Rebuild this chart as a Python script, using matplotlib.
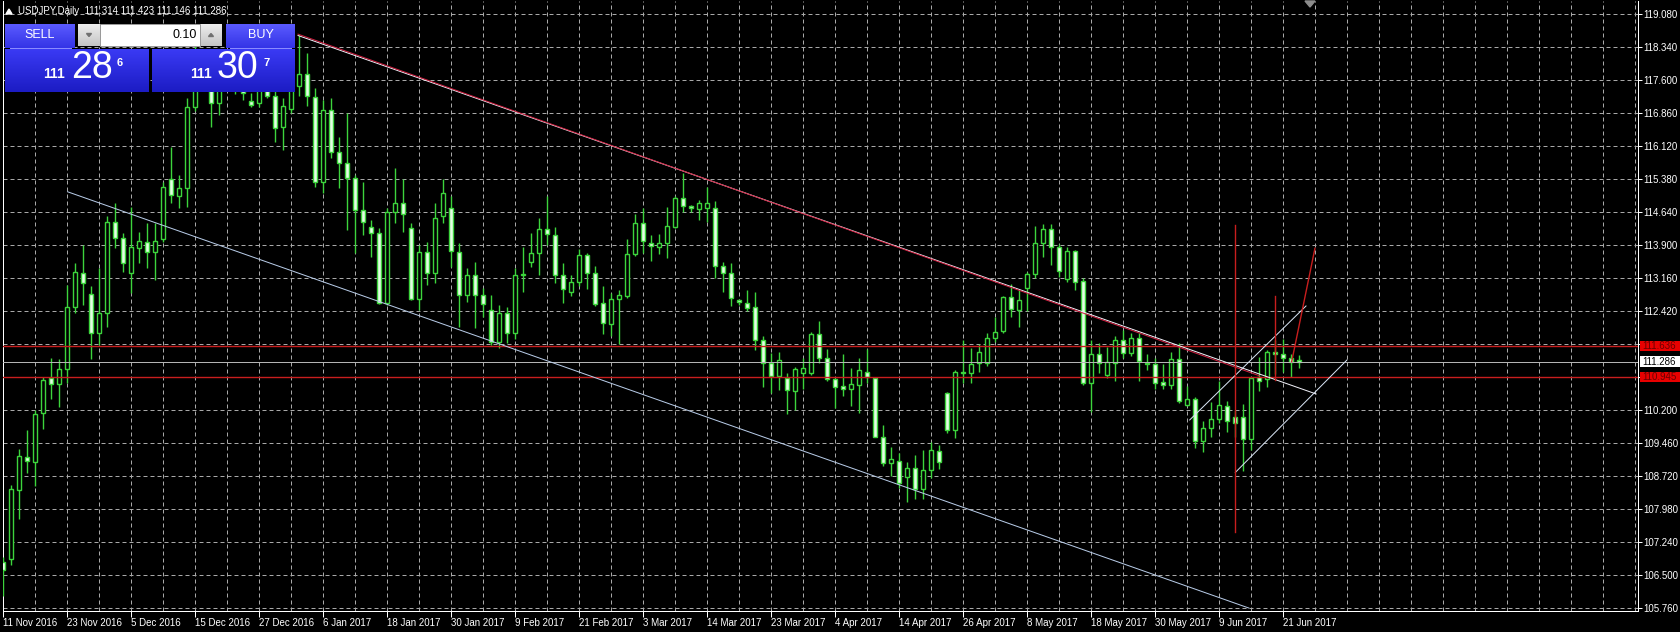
import numpy as np
import matplotlib
matplotlib.use("Agg")
import matplotlib.pyplot as plt
import matplotlib.transforms as mtransforms
from matplotlib.patches import Rectangle, Polygon
from matplotlib.colors import LinearSegmentedColormap

plt.rcParams["font.family"] = ["Liberation Sans", "DejaVu Sans"]

# ---------------------------------------------------------------------------
# USDJPY daily bars, 11 Nov 2016 .. 23 Jun 2017
# ---------------------------------------------------------------------------
opens = [106.80, 106.85, 108.41, 109.15, 109.04, 110.13, 110.91, 110.78, 111.11, 112.50,
         113.27, 112.80, 111.92, 112.37, 114.42, 114.05, 113.28, 113.84, 113.97, 113.75,
         114.03, 115.37, 115.00, 115.17, 116.99, 118.10, 117.90, 117.08, 117.90, 117.60,
         117.55, 117.13, 117.08, 117.60, 117.25, 116.54, 116.95, 117.47, 117.73, 117.21,
         115.32, 116.93, 115.99, 115.73, 115.40, 114.69, 114.31, 114.16, 112.59, 114.63,
         114.85, 114.28, 112.68, 113.75, 113.28, 114.54, 114.72, 113.74, 112.78, 113.23,
         112.78, 112.44, 111.73, 112.38, 111.92, 113.23, 113.53, 113.71, 114.25, 114.13,
         113.23, 112.85, 113.06, 113.68, 113.28, 112.59, 112.13, 112.68, 112.76, 113.70,
         114.40, 113.95, 113.86, 113.95, 114.30, 114.95, 114.77, 114.71, 114.72, 114.72,
         113.43, 113.28, 112.67, 112.61, 112.50, 111.76, 111.25, 110.96, 110.91, 110.63,
         111.02, 111.02, 111.90, 111.36, 110.89, 110.75, 110.68, 110.77, 111.05, 110.91,
         109.59, 109.02, 109.06, 108.69, 108.89, 108.42, 108.86, 109.29, 110.58, 109.75,
         111.06, 111.02, 111.25, 111.25, 111.81, 111.98, 112.73, 112.44, 112.93, 113.25,
         113.95, 114.25, 113.85, 113.13, 113.77, 113.10, 110.81, 111.46, 110.99, 111.26,
         111.77, 111.47, 111.81, 111.25, 111.23, 110.83, 110.76, 111.34, 110.31, 110.44,
         109.50, 109.80, 110.00, 110.28, 110.05, 110.05, 109.55, 110.93, 110.89, 111.51,
         111.46, 111.36, 111.314]
highs = [106.91, 108.52, 109.32, 109.75, 110.19, 110.95, 111.36, 111.34, 113.00, 113.50,
         113.90, 112.98, 113.38, 114.54, 114.84, 114.16, 114.76, 114.20, 114.39, 114.39,
         115.32, 116.10, 115.47, 117.20, 118.66, 118.30, 118.05, 118.25, 118.20, 117.90,
         117.80, 117.30, 117.60, 117.90, 117.40, 117.19, 117.80, 118.61, 118.20, 117.41,
         117.15, 117.20, 116.33, 116.87, 115.47, 115.32, 114.46, 114.28, 114.72, 115.62,
         115.37, 114.39, 113.90, 113.97, 114.85, 115.37, 115.00, 113.94, 113.38, 113.53,
         112.93, 112.78, 112.56, 112.52, 113.38, 113.86, 114.16, 114.50, 115.00, 114.30,
         113.49, 113.23, 113.80, 113.71, 113.43, 112.97, 112.83, 112.89, 114.03, 114.60,
         114.72, 114.12, 114.14, 114.76, 115.00, 115.51, 114.80, 114.91, 115.19, 114.89,
         113.53, 113.49, 112.69, 112.89, 112.85, 111.85, 111.47, 111.51, 111.04, 111.17,
         111.36, 111.96, 112.20, 111.56, 110.91, 111.46, 111.14, 111.36, 111.56, 110.95,
         109.87, 109.38, 109.23, 109.04, 109.20, 109.30, 109.49, 109.42, 110.61, 111.10,
         111.77, 111.58, 111.68, 111.92, 112.29, 112.76, 113.03, 112.89, 113.30, 114.33,
         114.37, 114.37, 113.92, 113.85, 113.79, 113.15, 111.77, 111.70, 111.61, 111.85,
         111.99, 111.92, 111.92, 111.46, 111.36, 111.23, 111.49, 111.70, 110.74, 110.50,
         109.96, 110.39, 110.84, 110.41, 110.20, 110.34, 110.95, 111.40, 111.55, 111.78,
         111.79, 111.46, 111.423]
lows = [106.02, 106.73, 107.75, 108.78, 108.50, 109.77, 110.44, 110.26, 110.80, 112.38,
        112.56, 111.34, 111.66, 112.07, 113.83, 113.30, 112.82, 113.49, 113.38, 113.12,
        113.97, 114.85, 114.72, 114.76, 116.90, 117.50, 116.54, 116.82, 117.40, 117.28,
        117.15, 116.99, 116.99, 117.20, 116.22, 116.03, 116.86, 117.23, 117.02, 115.21,
        115.06, 115.85, 115.17, 114.24, 113.71, 114.12, 113.64, 112.57, 112.56, 114.39,
        114.20, 112.67, 112.44, 113.00, 113.04, 114.39, 113.41, 112.07, 112.63, 112.03,
        112.29, 111.66, 111.60, 111.70, 111.80, 112.85, 113.41, 113.23, 113.90, 113.04,
        112.61, 112.76, 112.97, 112.91, 112.53, 111.90, 111.86, 111.68, 112.71, 113.65,
        113.71, 113.55, 113.70, 113.60, 114.28, 114.63, 114.65, 114.46, 114.42, 113.15,
        112.85, 112.53, 112.56, 112.41, 111.55, 110.72, 110.58, 110.65, 110.11, 110.19,
        110.67, 110.99, 111.25, 110.84, 110.24, 110.52, 110.28, 110.13, 110.80, 109.59,
        108.95, 108.71, 108.45, 108.13, 108.20, 108.20, 108.67, 108.87, 109.68, 109.57,
        110.80, 110.80, 111.06, 111.19, 111.73, 111.92, 112.28, 112.07, 112.41, 113.15,
        113.64, 113.45, 113.18, 113.08, 112.89, 110.76, 110.16, 111.04, 110.91, 110.86,
        111.37, 111.41, 110.86, 111.10, 110.67, 110.67, 110.67, 110.35, 110.28, 109.35,
        109.25, 109.60, 109.90, 109.70, 109.60, 108.84, 109.30, 110.63, 110.71, 111.00,
        111.06, 110.95, 111.146]
closes = [106.61, 108.42, 109.17, 109.06, 110.11, 110.87, 110.78, 111.11, 112.50, 113.30,
          113.04, 111.92, 112.37, 114.42, 114.05, 113.50, 113.85, 114.00, 113.75, 114.00,
          115.19, 115.02, 115.17, 117.00, 118.10, 117.90, 117.08, 117.90, 117.60, 117.55,
          117.30, 117.04, 117.40, 117.23, 116.52, 117.02, 117.50, 117.73, 117.23, 115.32,
          116.93, 115.99, 115.73, 115.40, 114.69, 114.42, 114.16, 112.59, 114.63, 114.85,
          114.59, 112.68, 113.75, 113.27, 114.50, 115.06, 113.77, 112.78, 113.23, 112.78,
          112.58, 111.73, 112.38, 111.92, 113.23, 113.24, 113.71, 114.25, 114.15, 113.23,
          112.91, 113.06, 113.68, 113.28, 112.58, 112.16, 112.68, 112.78, 113.70, 114.40,
          114.00, 113.88, 113.95, 114.33, 114.95, 114.77, 114.72, 114.84, 114.85, 113.43,
          113.28, 112.71, 112.62, 112.48, 111.77, 111.26, 110.96, 111.32, 110.65, 111.11,
          111.14, 111.90, 111.36, 110.89, 110.72, 110.68, 110.78, 111.10, 110.95, 109.59,
          109.02, 109.10, 108.57, 108.89, 108.42, 108.85, 109.30, 109.04, 109.75, 111.06,
          111.02, 111.23, 111.51, 111.81, 111.96, 112.73, 112.46, 112.67, 113.25, 113.95,
          114.25, 113.85, 113.32, 113.77, 113.08, 110.80, 111.46, 111.26, 111.28, 111.77,
          111.47, 111.81, 111.31, 111.23, 110.81, 110.76, 111.34, 110.41, 110.44, 109.50,
          109.80, 110.00, 110.31, 109.95, 109.90, 109.55, 110.91, 110.86, 111.51, 111.46,
          111.36, 111.28, 111.286]

date_labels = ["11 Nov 2016", "23 Nov 2016", "5 Dec 2016", "15 Dec 2016", "27 Dec 2016",
               "6 Jan 2017", "18 Jan 2017", "30 Jan 2017", "9 Feb 2017", "21 Feb 2017",
               "3 Mar 2017", "14 Mar 2017", "23 Mar 2017", "4 Apr 2017", "14 Apr 2017",
               "26 Apr 2017", "8 May 2017", "18 May 2017", "30 May 2017", "9 Jun 2017",
               "21 Jun 2017"]
label_every = 8          # MT4 prints a date every 8 bars at this zoom
grid_every = 4

price_ticks = [105.760, 106.500, 107.240, 107.980, 108.720, 109.460, 110.200, 110.940,
               111.680, 112.420, 113.160, 113.900, 114.640, 115.380, 116.120, 116.860,
               117.600, 118.340, 119.080]
hidden_ticks = [110.940, 111.680]   # covered by the red level labels

levels = [111.636, 110.945]
bid = 111.286
title = "USDJPY,Daily  111.314 111.423 111.146 111.286"
sell_quote = ("111", "28", "6")
buy_quote = ("111", "30", "7")
lot = "0.10"

# trend objects: (bar index, price) end points
upper_trend = ([36.84, 164.1], [118.598, 110.560])
upper_trend_red = ([36.84, 157.0], [118.598, 110.940])
lower_trend = ([8.03, 155.7], [115.094, 105.760])
rise_upper = ([148.3, 162.84], [109.977, 112.533])
rise_lower = ([154.0, 167.96], [108.80, 111.322])
red_vert_1 = ([154.0, 154.0], [114.349, 107.455])
red_vert_2 = ([159.0, 159.0], [112.757, 110.874])
red_diag = ([161.05, 163.96], [111.284, 113.827])

# ---------------------------------------------------------------------------
GREEN = "#3cd43c"
BEAR_FILL = "#e4ffe4"
GRID = "#a8a8a8"
LEVEL_RED = "#c81e1e"
W, H = 1680, 632
px = 0.72  # one pixel in points at dpi 100

fig = plt.figure(figsize=(W / 100, H / 100), dpi=100)
fig.patch.set_facecolor("black")
ax = fig.add_axes([2.5 / W, (H - 611) / H, (1638 - 2.5) / W, 610 / H])
ax.set_facecolor("black")

n = len(opens)
x = np.arange(n)
o, h, l, c = map(np.array, (opens, highs, lows, closes))
up = c >= o

ax.set_xlim(-0.1, 204.34)
ax.set_ylim(105.694, 119.371)

# grid
for gx in range(grid_every, 205, grid_every):
    ax.axvline(gx, color=GRID, lw=px, dashes=(4, 3), zorder=1)
for gy in price_ticks:
    ax.axhline(gy, color=GRID, lw=px, dashes=(4, 3), zorder=1)

# candles
ax.vlines(x, l, h, color=GREEN, lw=1.0, zorder=3)
ax.bar(x[up], (c - o)[up], bottom=o[up], width=0.55, color="black",
       edgecolor=GREEN, lw=1.0, zorder=4)
ax.bar(x[~up], (o - c)[~up], bottom=c[~up], width=0.55, color=BEAR_FILL,
       edgecolor=GREEN, lw=1.0, zorder=4)

# horizontal levels and bid
for lv in levels:
    ax.axhline(lv, color=LEVEL_RED, lw=1.0, zorder=5)
ax.axhline(bid, color="#b4b4b4", lw=px, zorder=5)

# trend lines
ax.plot(*upper_trend, color="#f0f0f8", lw=px, zorder=6)
ax.plot(upper_trend_red[0], np.array(upper_trend_red[1]) + 0.03, color="#d02040", lw=px, zorder=6)
ax.plot(*lower_trend, color="#b8cce8", lw=px, zorder=6)
ax.plot(*rise_upper, color="#d8e4f4", lw=px, zorder=6)
ax.plot(*rise_lower, color="#d8e4f4", lw=px, zorder=6)
for seg in (red_vert_1, red_vert_2, red_diag):
    ax.plot(*seg, color=LEVEL_RED, lw=1.0, zorder=6)

# axes frame
for side in ("left", "bottom", "right"):
    ax.spines[side].set_color("white")
    ax.spines[side].set_linewidth(px)
ax.spines["top"].set_visible(False)

# x axis: dates
ax.set_xticks(list(range(0, label_every * len(date_labels), label_every)))
ax.set_xticklabels(date_labels)
ax.tick_params(axis="x", colors="white", length=4, width=px, pad=1, labelsize=7)
for t in ax.get_xticklabels():
    t.set_horizontalalignment("left")

# y axis: prices on the right
ax.yaxis.tick_right()
ax.set_yticks(price_ticks)
ax.set_yticklabels(["" if p in hidden_ticks else f"{p:.3f}" for p in price_ticks])
ax.tick_params(axis="y", colors="white", length=3, width=px, pad=1, labelsize=7)

# price labels for levels / bid
trans = mtransforms.blended_transform_factory(ax.transAxes, ax.transData)
for lv, fc, tc in [(levels[0], "#e80000", "#6a0000"), (bid, "white", "black"),
                   (levels[1], "#e80000", "#6a0000")]:
    ax.add_patch(Rectangle((1.0013, lv - 0.118), 0.03, 0.236, transform=trans,
                           facecolor=fc, edgecolor="none", clip_on=False, zorder=10))
    ax.text(1.0025, lv, f"{lv:.3f}", transform=trans, color=tc, fontsize=7,
            va="center", ha="left", clip_on=False, zorder=11)

# ---------------------------------------------------------------------------
# overlay in pixel coordinates: title, one-click panel, shift marker
# ---------------------------------------------------------------------------
ov = fig.add_axes([0, 0, 1, 1], facecolor="none")
ov.axis("off")


def grad_rect(x0, y0, w, hgt, top, bottom, z=2):
    cm = LinearSegmentedColormap.from_list("g", [top, bottom])
    ov.imshow(np.linspace(0, 1, 40).reshape(-1, 1), cmap=cm, aspect="auto",
              extent=(x0, x0 + w, y0 + hgt, y0), zorder=z, interpolation="bilinear")


ov.add_patch(Polygon([(6, 14), (12, 14), (9, 9)], closed=True, color="white", zorder=3))
ov.text(18, 11.5, title, color="white", fontsize=7, va="center", ha="left", zorder=3)

# sell / buy buttons
grad_rect(5, 24, 70, 24, "#5a5aff", "#3434e6")
grad_rect(226, 24, 69, 24, "#5a5aff", "#3434e6")
ov.plot([10, 71], [47.5, 47.5], color="#8a8aff", lw=px, zorder=3)
ov.plot([230, 291], [47.5, 47.5], color="#8a8aff", lw=px, zorder=3)
ov.text(40, 35.5, "SELL", color="white", fontsize=9, ha="center", va="center", zorder=3)
ov.text(260.5, 35.5, "BUY", color="white", fontsize=9, ha="center", va="center", zorder=3)

# lot box with spin buttons
grad_rect(78, 24, 22, 22, "#eeeeee", "#c4c4c4")
grad_rect(200, 24, 22, 22, "#eeeeee", "#c4c4c4")
ov.add_patch(Rectangle((100, 24), 100, 22, facecolor="white", edgecolor="#9a9a9a",
                       lw=px, zorder=3))
ov.add_patch(Polygon([(86.5, 33.5), (91.5, 33.5), (89, 36.5)], closed=True,
                     color="#707070", zorder=4))
ov.add_patch(Polygon([(208.5, 36.5), (213.5, 36.5), (211, 33.5)], closed=True,
                     color="#707070", zorder=4))
ov.text(197, 35, lot, color="black", fontsize=9, ha="right", va="center", zorder=4)

# price boxes
grad_rect(5, 49, 144, 43, "#3a3af4", "#1c1cc4")
grad_rect(152, 49, 143, 43, "#3a3af4", "#1c1cc4")
for (x_small, x_big, x_sup), (small, big, sup) in [((43, 71, 117), sell_quote),
                                                   ((190, 217, 263), buy_quote)]:
    ov.text(x_small, 74.5, small, color="white", fontsize=10, fontweight="bold",
            ha="left", va="center", zorder=4)
    ov.text(x_big, 68, big, color="white", fontsize=27, ha="left", va="center", zorder=4)
    ov.text(x_sup, 63, sup, color="white", fontsize=8, fontweight="bold",
            ha="left", va="center", zorder=4)

# chart shift marker
ov.add_patch(Polygon([(1305, 1), (1315, 1), (1310, 7)], closed=True, color="#8c8c8c", zorder=3))

ov.set_xlim(0, W)
ov.set_ylim(H, 0)

fig.savefig("out.png", dpi=100, facecolor="black")
